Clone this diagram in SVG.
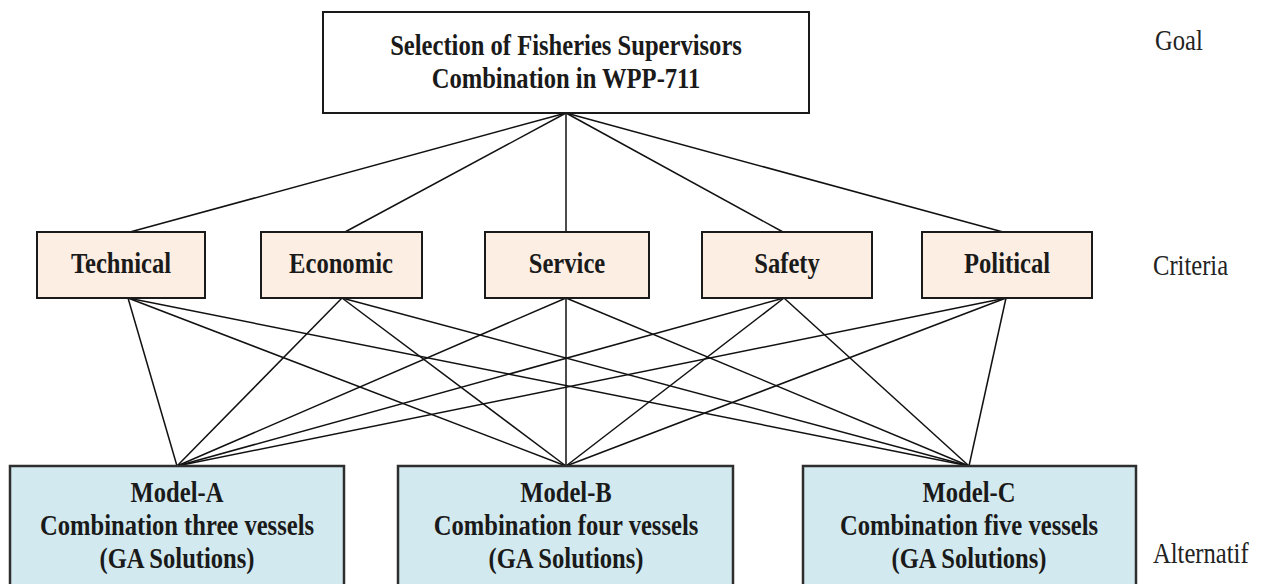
<svg xmlns="http://www.w3.org/2000/svg" width="1265" height="584" viewBox="0 0 1265 584">
<style>
.bg{fill:#ffffff}
.goal{fill:#ffffff;stroke:#1a1a1a;stroke-width:2}
.crit{fill:#fdeee3;stroke:#1a1a1a;stroke-width:2}
.alt{fill:#d2e9ef;stroke:#2e2e2e;stroke-width:2.5}
.t{font-family:"Liberation Serif","Times New Roman",serif;font-weight:bold;font-size:30px;fill:#1a1a1a;text-anchor:middle}
.lbl{font-family:"Liberation Serif","Times New Roman",serif;font-size:30px;fill:#222}
.conn line{stroke:#111;stroke-width:1.5}
</style>
<rect class="bg" x="0" y="0" width="1265" height="584"/>
<g class="conn" id="connectors">
<line x1="566" y1="113" x2="130" y2="232"/>
<line x1="566" y1="113" x2="345" y2="232"/>
<line x1="566" y1="113" x2="566" y2="232"/>
<line x1="566" y1="113" x2="783" y2="232"/>
<line x1="566" y1="113" x2="1003" y2="232"/>
<line x1="128" y1="298" x2="177" y2="466"/>
<line x1="128" y1="298" x2="566" y2="466"/>
<line x1="128" y1="298" x2="969" y2="466"/>
<line x1="342" y1="298" x2="177" y2="466"/>
<line x1="342" y1="298" x2="566" y2="466"/>
<line x1="342" y1="298" x2="969" y2="466"/>
<line x1="566" y1="298" x2="177" y2="466"/>
<line x1="566" y1="298" x2="566" y2="466"/>
<line x1="566" y1="298" x2="969" y2="466"/>
<line x1="784" y1="298" x2="177" y2="466"/>
<line x1="784" y1="298" x2="566" y2="466"/>
<line x1="784" y1="298" x2="969" y2="466"/>
<line x1="1006" y1="298" x2="177" y2="466"/>
<line x1="1006" y1="298" x2="566" y2="466"/>
<line x1="1006" y1="298" x2="969" y2="466"/>
</g>
<g id="goal">
<rect class="goal" x="323" y="12" width="486" height="101"/>
<text class="t" transform="translate(566,55) scale(0.82,1)">Selection of Fisheries Supervisors</text>
<text class="t" transform="translate(566,88) scale(0.82,1)">Combination in WPP-711</text>
</g>
<g id="technical">
<rect class="crit" x="37" y="232" width="168" height="66"/>
<text class="t" transform="translate(121,273) scale(0.82,1)">Technical</text>
</g>
<g id="economic">
<rect class="crit" x="261" y="232" width="161" height="66"/>
<text class="t" transform="translate(341,273) scale(0.82,1)">Economic</text>
</g>
<g id="service">
<rect class="crit" x="485" y="232" width="164" height="66"/>
<text class="t" transform="translate(567,273) scale(0.82,1)">Service</text>
</g>
<g id="safety">
<rect class="crit" x="702" y="232" width="170" height="66"/>
<text class="t" transform="translate(787,273) scale(0.82,1)">Safety</text>
</g>
<g id="political">
<rect class="crit" x="922" y="232" width="170" height="66"/>
<text class="t" transform="translate(1007,273) scale(0.82,1)">Political</text>
</g>
<g id="model-a">
<rect class="alt" x="10" y="466" width="334" height="130"/>
<text class="t" transform="translate(177,502) scale(0.82,1)">Model-A</text>
<text class="t" transform="translate(177,535) scale(0.82,1)">Combination three vessels</text>
<text class="t" transform="translate(177,568) scale(0.82,1)">(GA Solutions)</text>
</g>
<g id="model-b">
<rect class="alt" x="398" y="466" width="335" height="130"/>
<text class="t" transform="translate(566,502) scale(0.82,1)">Model-B</text>
<text class="t" transform="translate(566,535) scale(0.82,1)">Combination four vessels</text>
<text class="t" transform="translate(566,568) scale(0.82,1)">(GA Solutions)</text>
</g>
<g id="model-c">
<rect class="alt" x="803" y="466" width="333" height="130"/>
<text class="t" transform="translate(969,502) scale(0.82,1)">Model-C</text>
<text class="t" transform="translate(969,535) scale(0.82,1)">Combination five vessels</text>
<text class="t" transform="translate(969,568) scale(0.82,1)">(GA Solutions)</text>
</g>
<g id="levels">
<text class="lbl" transform="translate(1155,50) scale(0.82,1)">Goal</text>
<text class="lbl" transform="translate(1153,275) scale(0.82,1)">Criteria</text>
<text class="lbl" transform="translate(1153,563) scale(0.82,1)">Alternatif</text>
</g>
</svg>
